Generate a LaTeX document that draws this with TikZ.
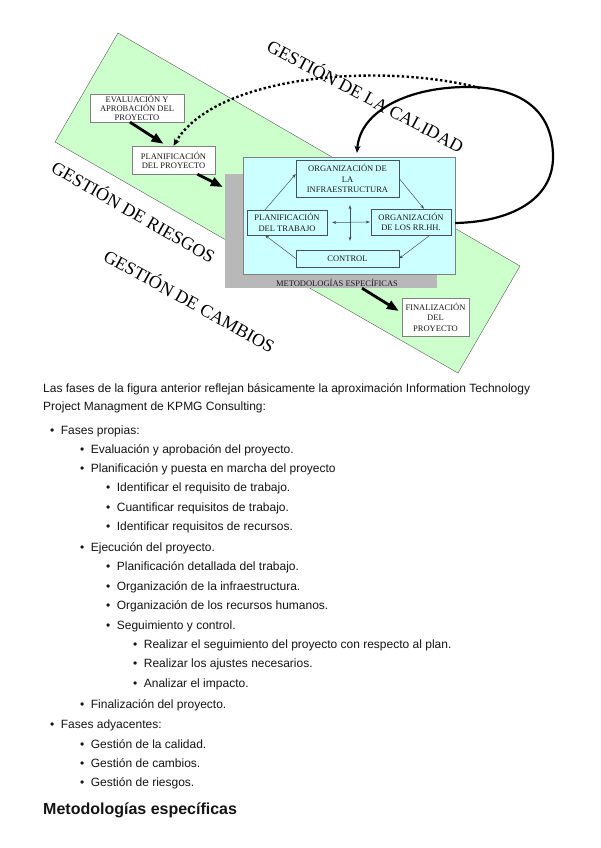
\documentclass[tikz,border=0pt]{standalone}
\usepackage{fontspec}
\setmainfont{Liberation Serif}
\newfontfamily\bodyfont{Liberation Sans}
\usetikzlibrary{arrows.meta}

\definecolor{bandgreen}{RGB}{204,255,204}
\definecolor{methcyan}{RGB}{204,255,255}
\definecolor{methgray}{RGB}{184,184,184}
\definecolor{boxline}{RGB}{70,80,90}

\begin{document}
\begin{tikzpicture}[
    x=1pt, y=-1pt,
    phase/.style={rectangle, draw=gray, fill=white, align=center, inner sep=0pt, text=black!90, font=\fontsize{8.5}{9}\selectfont},
    task/.style={rectangle, draw=boxline, fill=methcyan, align=center, inner sep=0pt, text=black!90, font=\fontsize{8.5}{10.5}\selectfont},
    area/.style={inner sep=0pt, font=\fontsize{18}{18}\selectfont},
    bigarrow/.style={-{Triangle[length=12pt, width=9pt]}, line width=2.8pt},
    looparrow/.style={-{Stealth[length=7pt, width=6pt]}, line width=2.2pt},
    dotarrow/.style={-{Stealth[length=7pt, width=6pt]}, line width=2.4pt, dash pattern=on 2.4pt off 2.4pt},
    thinarrow/.style={-{Stealth[length=4pt, width=3pt]}, line width=0.5pt, draw=boxline},
    thinboth/.style={thinarrow, {Stealth[length=4pt, width=3pt]}-{Stealth[length=4pt, width=3pt]}},
    bodytext/.style={anchor=base west, inner sep=0pt, text=black!92, font=\bodyfont\fontsize{12}{14}\selectfont}
]
\useasboundingbox (0,0) rectangle (600,848);

% Background band
\filldraw[fill=bandgreen, draw=gray!70!black, line width=0.4pt] (118,33) -- (520,266) -- (458,373) -- (55,142) -- cycle;

% Nodes
\node[rectangle, fill=methgray, minimum width=212pt, minimum height=114pt] (meto-gray) at (331,231) {};
\node[rectangle, draw=gray, fill=methcyan, minimum width=212pt, minimum height=117pt] (meto-cyan) at (349,215.5) {};
\node[inner sep=0pt, text=black!90, font=\fontsize{8.5}{10}\selectfont] (meto-label) at (337,283) {METODOLOGÍAS ESPECÍFICAS};

\node[phase, minimum width=94pt, minimum height=28pt] (eval-proyecto) at (137,108) {EVALUACIÓN Y\\APROBACIÓN DEL\\PROYECTO};
\node[phase, minimum width=83pt, minimum height=28pt] (plan-proyecto) at (173.5,160) {PLANIFICACIÓN\\DEL PROYECTO};
\node[phase, minimum width=67pt, minimum height=38pt, font=\fontsize{8.5}{10.5}\selectfont] (final-proyecto) at (435.5,317) {FINALIZACIÓN\\DEL\\PROYECTO};

\node[task, minimum width=103pt, minimum height=37pt] (infra) at (347.5,178.5) {ORGANIZACIÓN DE\\LA\\INFRAESTRUCTURA};
\node[task, minimum width=80pt, minimum height=25pt] (plan-trabajo) at (287,222.5) {PLANIFICACIÓN\\DEL TRABAJO};
\node[task, minimum width=80pt, minimum height=26pt] (rrhh) at (411,222) {ORGANIZACIÓN\\DE LOS RR.HH.};
\node[task, minimum width=103pt, minimum height=17pt] (control) at (347.5,258.5) {CONTROL};

\node[area, rotate=-28] (calidad) at (366,95) {GESTIÓN DE LA CALIDAD};
\node[area, rotate=-30] (riesgos) at (134,211) {GESTIÓN DE RIESGOS};
\node[area, rotate=-29] (cambios) at (190,300) {GESTIÓN DE CAMBIOS};

\coordinate (calidad-join) at (480,88);

% Arrows
\draw[bigarrow] ([xshift=-7pt]eval-proyecto.south) -- ([xshift=-10pt, yshift=2pt]plan-proyecto.north);
\draw[bigarrow] ([xshift=24pt]plan-proyecto.south) -- ([xshift=-2pt, yshift=44pt]meto-gray.west);
\draw[bigarrow] ([xshift=31pt]meto-gray.south) -- ([xshift=-3pt, yshift=6pt]final-proyecto.west);

\draw[thinarrow] ([xshift=-22pt]plan-trabajo.north) -- ([yshift=4.5pt]infra.west);
\draw[thinarrow] (infra.east) -- ([xshift=13pt]rrhh.north);
\draw[thinarrow] ([xshift=19pt]rrhh.south) -- (control.east);
\draw[thinarrow] (control.west) -- ([xshift=-22pt]plan-trabajo.south);
\draw[thinboth] ([xshift=5pt]plan-trabajo.east) -- ([xshift=-1pt]rrhh.west);
\draw[thinboth] ([xshift=2.5pt, yshift=-8pt]infra.south) -- ([xshift=2.5pt, yshift=9pt]control.north);

\draw[looparrow] ([yshift=-7.5pt]meto-cyan.east) .. controls (510,222) and (553,200) .. (553,157)
    .. controls (553,108) and (518,87) .. (467,87)
    .. controls (410,87) and (360,110) .. ([xshift=8pt, yshift=4pt]meto-cyan.north);
\draw[dotarrow] (calidad-join) .. controls (380,62) and (215,75) .. (plan-proyecto.north);

% Text below the figure
\node[bodytext] (intro-1) at (43,392) {Las fases de la figura anterior reflejan básicamente la aproximación Information Technology};
\node[bodytext] (intro-2) at (43,410) {Project Managment de KPMG Consulting:};
\node[bodytext] (propias) at (50,434) {•\hspace{6.5pt}Fases propias:};
\node[bodytext] (evaluacion) at (80,453) {•\hspace{6.5pt}Evaluación y aprobación del proyecto.};
\node[bodytext] (planificacion) at (80,472) {•\hspace{6.5pt}Planificación y puesta en marcha del proyecto};
\node[bodytext] (req-trabajo) at (106,491) {•\hspace{6.5pt}Identificar el requisito de trabajo.};
\node[bodytext] (cuantificar) at (106,511) {•\hspace{6.5pt}Cuantificar requisitos de trabajo.};
\node[bodytext] (req-recursos) at (106,530) {•\hspace{6.5pt}Identificar requisitos de recursos.};
\node[bodytext] (ejecucion) at (80,551) {•\hspace{6.5pt}Ejecución del proyecto.};
\node[bodytext] (detallada) at (106,570) {•\hspace{6.5pt}Planificación detallada del trabajo.};
\node[bodytext] (org-infra) at (106,590) {•\hspace{6.5pt}Organización de la infraestructura.};
\node[bodytext] (org-rrhh) at (106,609) {•\hspace{6.5pt}Organización de los recursos humanos.};
\node[bodytext] (seguimiento) at (106,629) {•\hspace{6.5pt}Seguimiento y control.};
\node[bodytext] (seg-plan) at (133,648) {•\hspace{6.5pt}Realizar el seguimiento del proyecto con respecto al plan.};
\node[bodytext] (ajustes) at (133,667) {•\hspace{6.5pt}Realizar los ajustes necesarios.};
\node[bodytext] (impacto) at (133,687) {•\hspace{6.5pt}Analizar el impacto.};
\node[bodytext] (finalizacion) at (80,708) {•\hspace{6.5pt}Finalización del proyecto.};
\node[bodytext] (adyacentes) at (50,728) {•\hspace{6.5pt}Fases adyacentes:};
\node[bodytext] (g-calidad) at (80,748) {•\hspace{6.5pt}Gestión de la calidad.};
\node[bodytext] (g-cambios) at (80,767) {•\hspace{6.5pt}Gestión de cambios.};
\node[bodytext] (g-riesgos) at (80,786) {•\hspace{6.5pt}Gestión de riesgos.};
\node[bodytext, font=\bodyfont\bfseries\fontsize{16}{18}\selectfont] (heading) at (43,814) {Metodologías específicas};

\end{tikzpicture}
\end{document}
